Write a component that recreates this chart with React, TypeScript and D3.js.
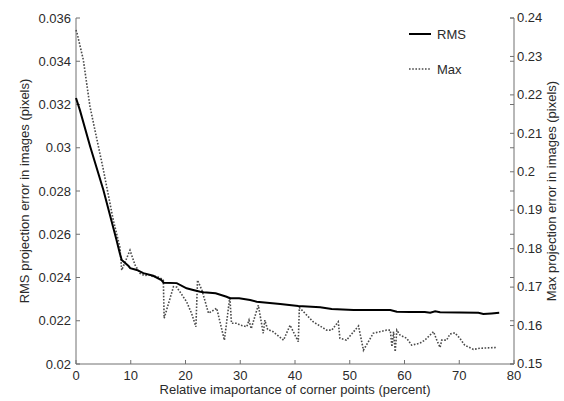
import React from "react";
import * as d3 from "d3";

const rmsX = [0, 0.7, 2.6, 5.0, 7.4, 8.0, 8.35, 9.6, 9.9, 11.1, 12.3, 14.1, 15.6, 16.0, 18.4, 20.2, 21.4, 22.7, 23.3, 25.5, 27.5, 28.1, 29.8, 31.8, 33.0, 37.3, 40.6, 44.6, 46.7, 50.7, 57.4, 58.6, 61, 63.7, 64.7, 65.6, 66.5, 73.5, 74.4, 75.9, 77.3];
const rmsY = [0.0323, 0.03175, 0.03005, 0.02805, 0.02573, 0.02512, 0.02481, 0.02453, 0.02443, 0.02435, 0.0242, 0.02408, 0.02388, 0.02376, 0.02374, 0.0235, 0.02342, 0.02334, 0.02332, 0.02327, 0.02311, 0.02304, 0.02304, 0.02296, 0.02288, 0.02277, 0.02268, 0.02262, 0.02254, 0.0225, 0.0225, 0.02242, 0.0224, 0.0224, 0.02237, 0.02244, 0.02239, 0.02237, 0.02231, 0.02234, 0.02237];

const maxX = [0, 0.2, 1.34, 2.56, 5.0, 6.8, 8.0, 8.35, 9.86, 10.8, 11.7, 12.5, 13.3, 14.1, 14.7, 15.6, 15.95, 16.1, 17.8, 18.4, 20.2, 21.1, 21.9, 22.2, 23.0, 24.2, 25.7, 27.1, 28.1, 28.4, 29.4, 30, 31.2, 31.6, 32.0, 33.3, 34.2, 34.5, 35.0, 36, 37.9, 39.1, 40.6, 40.8, 43.3, 45.8, 46.7, 47.9, 48.2, 49.4, 51.6, 52.5, 54.3, 56.7, 57.4, 57.7, 58.0, 58.3, 58.6, 59.2, 60.4, 61.3, 62.8, 63.7, 65.3, 65.9, 66.5, 66.8, 67.7, 68.3, 69.2, 70.1, 71, 72.6, 73.8, 76.8];
const maxY = [0.2369, 0.236, 0.2291, 0.2169, 0.2005, 0.1875, 0.1805, 0.1744, 0.1796, 0.1757, 0.1736, 0.173, 0.1732, 0.1727, 0.1728, 0.1722, 0.1718, 0.1619, 0.1701, 0.17, 0.1662, 0.1632, 0.1597, 0.1718, 0.1692, 0.1632, 0.1645, 0.1562, 0.1675, 0.1606, 0.1606, 0.1601, 0.1597, 0.1614, 0.1592, 0.1653, 0.158, 0.1614, 0.159, 0.1584, 0.1562, 0.1601, 0.1558, 0.1647, 0.161, 0.1588, 0.1588, 0.161, 0.1567, 0.1562, 0.1599, 0.1536, 0.158, 0.1588, 0.1588, 0.1545, 0.1584, 0.1532, 0.1588, 0.1575, 0.1567, 0.1549, 0.1554, 0.1562, 0.1584, 0.1562, 0.1543, 0.1562, 0.1562, 0.1578, 0.1581, 0.1567, 0.1549, 0.1538, 0.1541, 0.1543];

const xTicks = [0, 10, 20, 30, 40, 50, 60, 70, 80];
const leftTicks = [0.02, 0.022, 0.024, 0.026, 0.028, 0.03, 0.032, 0.034, 0.036];
const leftTickLabels = ["0.02", "0.022", "0.024", "0.026", "0.028", "0.03", "0.032", "0.034", "0.036"];
const rightTicks = [0.15, 0.16, 0.17, 0.18, 0.19, 0.2, 0.21, 0.22, 0.23, 0.24];
const rightTickLabels = ["0.15", "0.16", "0.17", "0.18", "0.19", "0.2", "0.21", "0.22", "0.23", "0.24"];

const W = 564, H = 401;
const L = 76, R = 514, T = 18, B = 364;
const FONT = "'Liberation Sans', Arial, sans-serif";
const TEXT = "#2a2a2a";
const AXIS = "#707070";

export default function App() {
  const x = d3.scaleLinear().domain([0, 80]).range([L, R]);
  const yL = d3.scaleLinear().domain([0.02, 0.036]).range([B, T]);
  const yR = d3.scaleLinear().domain([0.15, 0.24]).range([B, T]);

  const rmsLine = d3.line<number>().x((_, i) => x(rmsX[i])).y((d) => yL(d));
  const maxLine = d3.line<number>().x((_, i) => x(maxX[i])).y((d) => yR(d));
  const tk = 4;

  return (
    <svg width={W} height={H} style={{ position: "absolute", left: 0, top: 0, background: "#fff" }} fontFamily={FONT}>
      <rect x={0} y={0} width={W} height={H} fill="#fff" />
      <line x1={L} y1={T} x2={L} y2={B} stroke={AXIS} strokeWidth={1} />
      <line x1={R} y1={T} x2={R} y2={B} stroke={AXIS} strokeWidth={1} />
      <line x1={L} y1={B} x2={R} y2={B} stroke={AXIS} strokeWidth={1} />
      {xTicks.map((t) => (
        <g key={"x" + t}>
          <line x1={x(t)} x2={x(t)} y1={B} y2={B - tk} stroke={AXIS} />
          <text x={x(t)} y={B + 15.5} textAnchor="middle" fontSize={13} fill={TEXT}>{t}</text>
        </g>
      ))}
      {leftTicks.map((t, i) => (
        <g key={"l" + t}>
          <line x1={L} x2={L + tk} y1={yL(t)} y2={yL(t)} stroke={AXIS} />
          <line x1={R} x2={R - tk} y1={yL(t)} y2={yL(t)} stroke={AXIS} />
          <text x={L - 5} y={yL(t) + 4.7} textAnchor="end" fontSize={13} fill={TEXT}>{leftTickLabels[i]}</text>
        </g>
      ))}
      {rightTicks.map((t, i) => (
        <g key={"r" + t}>
          <line x1={R} x2={R - tk} y1={yR(t)} y2={yR(t)} stroke={AXIS} />
          <text x={R + 3} y={yR(t) + 4.2} textAnchor="start" fontSize={13} fill={TEXT}>{rightTickLabels[i]}</text>
        </g>
      ))}
      <path d={maxLine(maxY) || ""} fill="none" stroke="#4a4a4a" strokeWidth={1.6} strokeDasharray="1.6,1.6" />
      <path d={rmsLine(rmsY) || ""} fill="none" stroke="#000" strokeWidth={2} />
      <text x={(L + R) / 2} y={394} textAnchor="middle" fontSize={13} fill={TEXT}>Relative imaportance of corner points (percent)</text>
      <text transform={`translate(29,${(T + B) / 2}) rotate(-90)`} textAnchor="middle" fontSize={13} fill={TEXT}>RMS projection error in images (pixels)</text>
      <text transform={`translate(556,${(T + B) / 2}) rotate(-90)`} textAnchor="middle" fontSize={13} fill={TEXT}>Max projection error in images (pixels)</text>
      <line x1={409} x2={431} y1={34} y2={34} stroke="#000" strokeWidth={2} />
      <text x={437} y={38.5} fontSize={13} fill={TEXT}>RMS</text>
      <line x1={409} x2={431} y1={69} y2={69} stroke="#4a4a4a" strokeWidth={1.6} strokeDasharray="1.6,1.6" />
      <text x={437} y={73.5} fontSize={13} fill={TEXT}>Max</text>
    </svg>
  );
}
